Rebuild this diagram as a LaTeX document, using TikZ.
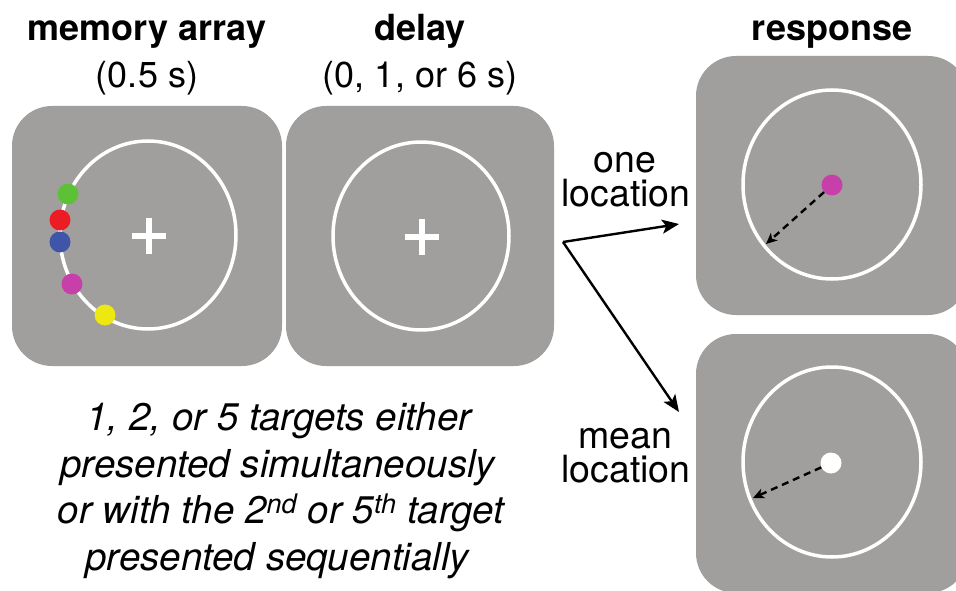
\documentclass[tikz,border=0pt]{standalone}
\usepackage{fontspec}
\setmainfont{TeX Gyre Heros}
\usetikzlibrary{arrows.meta}
\definecolor{panelgray}{HTML}{A09F9E}
\definecolor{dotgreen}{HTML}{5CC134}
\definecolor{dotred}{HTML}{EC1C24}
\definecolor{dotblue}{HTML}{3F55A8}
\definecolor{dotmagenta}{HTML}{C73FA8}
\definecolor{dotyellow}{HTML}{EDE811}
\tikzset{
  panel/.style={rectangle, rounded corners=40pt, fill=panelgray, inner sep=0pt},
  ring/.style={draw=white, line width=3.5pt},
  crossbar/.style={draw=white, line width=6pt},
  stim/.style={circle, inner sep=0pt, minimum size=21pt},
  flow/.style={draw=black, line width=2.4pt, -{Stealth[length=17pt, width=14pt, inset=4pt]}},
  probe/.style={draw=black, line width=2.4pt, dash pattern=on 7pt off 5pt,
    -{Stealth[length=11pt, width=10pt, inset=3pt]}},
  title/.style={anchor=base, font=\fontsize{36}{43}\selectfont\bfseries},
  sub/.style={anchor=base, font=\fontsize{36}{43}\selectfont},
  side/.style={anchor=base, font=\fontsize{37.5}{45}\selectfont},
  caption/.style={anchor=base, font=\fontsize{38.5}{46}\selectfont\itshape},
}
\begin{document}
\begin{tikzpicture}[x=1pt, y=-1pt]
\clip (0,0) rectangle (956,591);
\fill[white] (0,0) rectangle (956,591);

% headings
\node[title] (hmem) at (147,41) {memory array};
\node[sub] (tmem) at (147,88) {(0.5 s)};
\node[title] (hdel) at (420,41) {delay};
\node[sub] (tdel) at (420,88) {(0, 1, or 6 s)};
\node[title] (hres) at (832,41) {response};

% memory array panel
\node[panel, minimum width=270pt, minimum height=260pt] (mem) at (147,236) {};
\draw[ring] (148,235) ellipse [x radius=88, y radius=94];
\draw[crossbar] (131.5,236) -- (165.5,236) (148.5,218) -- (148.5,254);
\node[stim, fill=dotgreen] (sgreen) at (68,194) {};
\node[stim, fill=dotred] (sred) at (60,220) {};
\node[stim, fill=dotblue] (sblue) at (60,242) {};
\node[stim, fill=dotmagenta] (smag) at (72,284) {};
\node[stim, fill=dotyellow] (syel) at (105,315) {};

% delay panel
\node[panel, minimum width=268pt, minimum height=260pt] (del) at (420,236) {};
\draw[ring] (421,236) ellipse [x radius=88, y radius=94];
\draw[crossbar] (404.5,237) -- (438.5,237) (421.5,219) -- (421.5,255);

% response panels
\node[panel, minimum width=272pt, minimum height=259pt] (resA) at (832,185.5) {};
\draw[ring] (832,184.5) ellipse [x radius=89, y radius=94.5];
\node[stim, fill=dotmagenta] (pmag) at (832,185) {};
\coordinate (endA) at (766,244);
\draw[probe] (pmag) -- (endA);

\node[panel, minimum width=272pt, minimum height=259pt] (resB) at (832,463.5) {};
\draw[ring] (832,462) ellipse [x radius=89, y radius=95];
\node[stim, fill=white] (pmean) at (831,463) {};
\coordinate (endB) at (753,498);
\draw[probe] (pmean) -- (endB);

% branching arrows
\coordinate (fork) at (563,242);
\coordinate (tipA) at (679,224);
\coordinate (tipB) at (679,412);
\draw[flow] (fork) -- (tipA);
\draw[flow] (fork) -- (tipB);

\node[side] (one1) at (625,172) {one};
\node[side] (one2) at (626,206) {location};
\node[side] (mean1) at (625,448) {mean};
\node[side] (mean2) at (626,482) {location};

% condition description
\node[caption] (cap1) at (279,430) {1, 2, or 5 targets either};
\node[caption] (cap2) at (277.5,477) {presented simultaneously};
\node[caption] (cap3) at (281,523) {or with the 2\textsuperscript{nd} or 5\textsuperscript{th} target};
\node[caption] (cap4) at (277,570) {presented sequentially};
\end{tikzpicture}
\end{document}
